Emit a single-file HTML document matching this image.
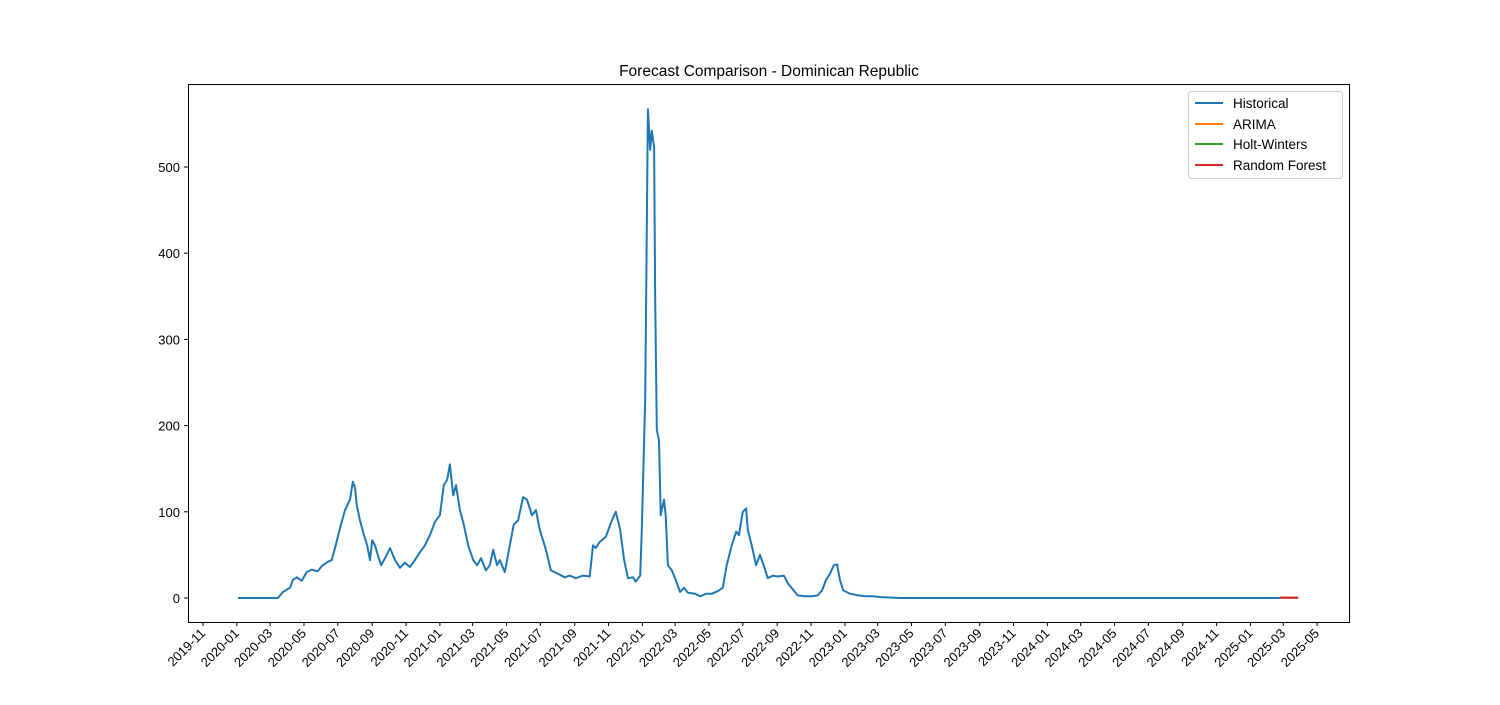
<!DOCTYPE html>
<html><head><meta charset="utf-8"><style>
body{margin:0;background:#fff;}
svg text{font-family:"Liberation Sans","DejaVu Sans",sans-serif;}
</style></head><body>
<svg id="chart" width="1500" height="700" xmlns="http://www.w3.org/2000/svg">
<rect width="1500" height="700" fill="#fff"/>
<text x="769" y="76" font-size="15.5" text-anchor="middle">Forecast Comparison - Dominican Republic</text>
<g id="plot"></g>
<rect x="188.5" y="84.5" width="1161" height="538" fill="none" stroke="#000" stroke-width="1"/>
<g>
<rect x="1188.5" y="91.5" width="154" height="87" rx="3" fill="#fff" stroke="#ccc"/>
<line x1="1195" y1="103" x2="1223" y2="103" stroke="#1f77b4" stroke-width="2"/>
<text x="1233" y="108" font-size="13.5">Historical</text>
<line x1="1195" y1="124" x2="1223" y2="124" stroke="#ff7f0e" stroke-width="2"/>
<text x="1233" y="129" font-size="13.5">ARIMA</text>
<line x1="1195" y1="144" x2="1223" y2="144" stroke="#2ca02c" stroke-width="2"/>
<text x="1233" y="149" font-size="13.5">Holt-Winters</text>
<line x1="1195" y1="165" x2="1223" y2="165" stroke="#d62728" stroke-width="2"/>
<text x="1233" y="170" font-size="13.5">Random Forest</text>
</g>
</svg>
<script>
const startDate = "2020-01-03";
const histDays = [0,72,81,94,99,106,115,124,133,144,151,162,169,175,184,193,202,207,211,214,220,227,233,238,242,247,252,258,265,274,283,292,301,310,319,328,337,346,355,364,371,377,382,388,393,400,407,415,424,431,438,447,454,460,467,472,481,490,497,505,514,521,530,537,544,555,564,577,589,598,609,622,634,640,645,652,663,674,681,689,696,703,712,717,725,728,734,739,743,746,750,752,755,759,762,768,771,775,782,789,797,804,811,824,833,844,854,865,874,881,890,898,903,910,916,919,926,934,941,948,955,964,973,984,991,1000,1009,1022,1035,1045,1053,1060,1067,1074,1080,1085,1091,1103,1118,1132,1145,1157,1193,1226,1878];
const histValues = [0,0,7,12,21,24,20,30,33,31,37,42,44,58,81,102,114,135,128,108,90,73,61,44,67,61,50,38,46,58,44,35,41,36,44,53,61,73,88,96,131,137,155,119,131,102,85,61,44,38,46,32,38,56,38,44,30,61,85,90,117,114,96,102,79,56,32,28,24,26,23,26,25,61,58,65,71,90,100,79,44,23,24,19,26,79,230,567,520,542,523,346,195,183,96,114,96,38,32,21,7,12,6,5,2,5,5,8,12,38,61,77,73,100,104,79,61,38,50,37,23,26,25,26,17,10,3,2,2,3,9,21,28,38,39,21,9,5,3,2,2,1,0,0,0];
const fcDays = [1878,1888,1898,1908,1911];
const arimaValues = [0.3,0.3,0.3,0.3,0.3];
const hwValues = [0.2,0.2,0.2,0.2,0.2];
const rfValues = [0.4,0.6,0.3,0.5,0.4];
const yTicks = [0,100,200,300,400,500];

const NS="http://www.w3.org/2000/svg";
const plot=document.getElementById('plot');
const t0=Date.UTC(2019,10,1);
const dayMs=86400000;
const startOff=(Date.parse(startDate)-t0)/dayMs;
function xs(dayFromOrigin){return 203+dayFromOrigin*0.5548;}
function ys(v){return 598-v*0.862;}
function mk(tag,attrs){const e=document.createElementNS(NS,tag);for(const k in attrs)e.setAttribute(k,attrs[k]);plot.appendChild(e);return e;}

yTicks.forEach(v=>{
  const y=ys(v);
  const tk=mk('line',{x1:184,x2:188,y1:y,y2:y,stroke:'#000'});
  
  
  const t=mk('text',{x:180,y:y+5,'font-size':13,'text-anchor':'end'});
  
  
  t.textContent=v;
});
for(let i=0;i<=33;i++){
  const yr=2019+Math.floor((10+2*i)/12), mo=(10+2*i)%12;
  const d=(Date.UTC(yr,mo,1)-t0)/dayMs;
  const x=xs(d);
  const tk=mk('line',{x1:x,x2:x,y1:622,y2:626,stroke:'#000'});
  
  
  const t=mk('text',{x:x+3,y:634,'font-size':13,'text-anchor':'end',transform:`rotate(-45 ${x+3} 634)`});
  
  
  t.textContent=yr+'-'+String(mo+1).padStart(2,'0');
}
function line(days,vals,color,name,dash){
  const n=Math.min(days.length,vals.length);
  const pts=days.slice(0,n).map((d,i)=>xs(startOff+d).toFixed(1)+','+ys(vals[i]).toFixed(1)).join(' ');
  const p=mk('polyline',{points:pts,fill:'none',stroke:color,'stroke-width':2,'stroke-linejoin':'round'});
  if(dash)p.setAttribute('stroke-dasharray',dash);
  
  
}
line(histDays,histValues,'#1f77b4','historical-line');
line(fcDays,arimaValues,'#ff7f0e','arima-line');
line(fcDays,hwValues,'#2ca02c','holt-winters-line','3,2');
line(fcDays,rfValues,'#d62728','random-forest-line');
</script>
</body></html>
